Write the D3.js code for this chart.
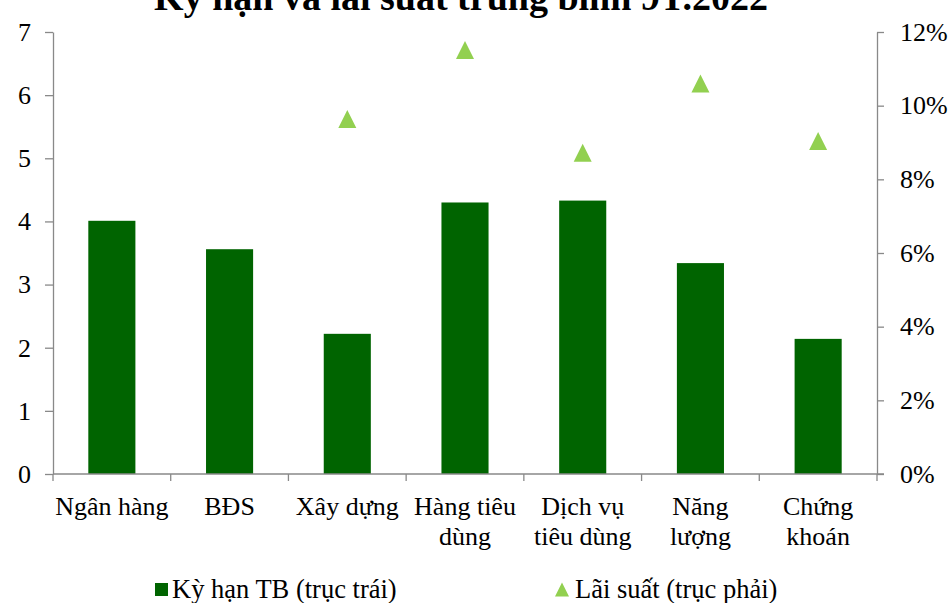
<!DOCTYPE html>
<html>
<head>
<meta charset="utf-8">
<script src="https://cdn.jsdelivr.net/npm/d3@7"></script>
<style>
  html, body { margin: 0; padding: 0; background: #fff; }
  svg { display: block; font-family: "Liberation Serif", "Times New Roman", serif; }
</style>
</head>
<body>
<svg id="chart" width="949" height="603"></svg>
<script>
// Sectors, average tenor (years, left axis) and average rate (right axis)
const categories = ["Ngân hàng", "BĐS", "Xây dựng", "Hàng tiêu dùng", "Dịch vụ tiêu dùng", "Năng lượng", "Chứng khoán"];
const tenorValues = [4.01, 3.56, 2.22, 4.30, 4.33, 3.34, 2.14];
const rateValues = [null, null, 0.0964, 0.1151, 0.0872, 0.1060, 0.0904];
const leftTicks = [0, 1, 2, 3, 4, 5, 6, 7];
const rightTicks = [0, 0.02, 0.04, 0.06, 0.08, 0.10, 0.12];
const titleText = "Kỳ hạn và lãi suất trung bình 9T.2022";
const legendLabels = ["Kỳ hạn TB (trục trái)", "Lãi suất (trục phải)"];

const svg = d3.select("#chart");
const margin = { left: 53, right: 877, top: 32, bottom: 474 };
const axisColor = "#898989";
const barColor = "#006400";
const markerColor = "#92d050";
const fontSize = 26;

const x = d3.scaleBand().domain(categories).range([margin.left, margin.right]).paddingInner(0.6).paddingOuter(0.3);
const yL = d3.scaleLinear().domain([0, 7]).range([margin.bottom, margin.top]);
const yR = d3.scaleLinear().domain([0, 0.12]).range([margin.bottom, margin.top]);

// Title (sits partly above the top edge)
svg.append("text")
  .attr("x", 461).attr("y", 9.5)
  .attr("text-anchor", "middle")
  .attr("font-weight", "bold")
  .attr("font-size", 38)
  .text(titleText);

// Bars
svg.append("g").selectAll("rect")
  .data(categories.map((c, i) => ({ c, v: tenorValues[i] })))
  .join("rect")
  .attr("x", d => x(d.c))
  .attr("width", x.bandwidth())
  .attr("y", d => yL(d.v))
  .attr("height", d => yL(0) - yL(d.v))
  .attr("fill", barColor);

// Triangle marker of equal width and height
const triangle = {
  draw(ctx, size) {
    const h = Math.sqrt(size) / 2;
    ctx.moveTo(0, -h);
    ctx.lineTo(h, h);
    ctx.lineTo(-h, h);
    ctx.closePath();
  }
};

svg.append("g").selectAll("path")
  .data(categories.map((c, i) => ({ c, v: rateValues[i] })).filter(d => d.v != null))
  .join("path")
  .attr("transform", d => `translate(${x(d.c) + x.bandwidth() / 2},${yR(d.v)})`)
  .attr("d", d3.symbol().type(triangle).size(18 * 18))
  .attr("fill", markerColor);

function styleAxis(g) {
  g.select(".domain").attr("stroke", axisColor).attr("stroke-width", 1.3);
  g.selectAll(".tick line").attr("stroke", axisColor).attr("stroke-width", 1.3);
  g.selectAll(".tick text").attr("fill", "#000").attr("font-size", fontSize)
    .attr("font-family", "Liberation Serif, Times New Roman, serif");
}

// Left axis
svg.append("g")
  .attr("transform", `translate(${margin.left},0)`)
  .call(d3.axisLeft(yL).tickValues(leftTicks).tickFormat(d3.format("d")).tickSize(8).tickSizeOuter(0).tickPadding(14))
  .call(styleAxis);

// Right axis
svg.append("g")
  .attr("transform", `translate(${margin.right},0)`)
  .call(d3.axisRight(yR).tickValues(rightTicks).tickFormat(d3.format(".0%")).tickSize(7).tickSizeOuter(0).tickPadding(16))
  .call(styleAxis);

// Category axis: baseline, boundary ticks and wrapped labels
const xAxis = svg.append("g").attr("transform", `translate(0,${margin.bottom})`);
xAxis.append("line")
  .attr("x1", margin.left).attr("x2", margin.right + 7)
  .attr("stroke", axisColor).attr("stroke-width", 1.3);
const bounds = d3.range(categories.length + 1).map(i => x.range()[0] + i * x.step());
xAxis.selectAll("line.bound").data(bounds).join("line")
  .attr("class", "bound")
  .attr("x1", d => d).attr("x2", d => d)
  .attr("y1", 0).attr("y2", 7)
  .attr("stroke", axisColor).attr("stroke-width", 1.3);

const labels = xAxis.selectAll("text.cat").data(categories).join("text")
  .attr("class", "cat")
  .attr("text-anchor", "middle")
  .attr("font-size", fontSize)
  .attr("x", d => x(d) + x.bandwidth() / 2)
  .attr("y", 41);

labels.each(function (d) {
  const t = d3.select(this);
  const cx = x(d) + x.bandwidth() / 2;
  const words = d.split(" ");
  let lines = [];
  let line = [];
  const probe = t.append("tspan");
  words.forEach(w => {
    const test = line.concat(w).join(" ");
    probe.text(test);
    if (probe.node().getComputedTextLength() > x.step() - 2 && line.length) {
      lines.push(line.join(" "));
      line = [w];
    } else {
      line.push(w);
    }
  });
  lines.push(line.join(" "));
  probe.remove();
  lines.forEach((l, i) => {
    t.append("tspan").attr("x", cx).attr("dy", i === 0 ? 0 : 30).text(l);
  });
});

// Legend
const legend = svg.append("g");
legend.append("rect")
  .attr("x", 155).attr("y", 583).attr("width", 13).attr("height", 13)
  .attr("fill", barColor);
legend.append("text")
  .attr("x", 172).attr("y", 598).attr("font-size", 26.5)
  .text(legendLabels[0]);
legend.append("path")
  .attr("transform", "translate(562,589.5)")
  .attr("d", d3.symbol().type(triangle).size(14 * 14))
  .attr("fill", markerColor);
legend.append("text")
  .attr("x", 575).attr("y", 598).attr("font-size", 26.5)
  .text(legendLabels[1]);
</script>
</body>
</html>
